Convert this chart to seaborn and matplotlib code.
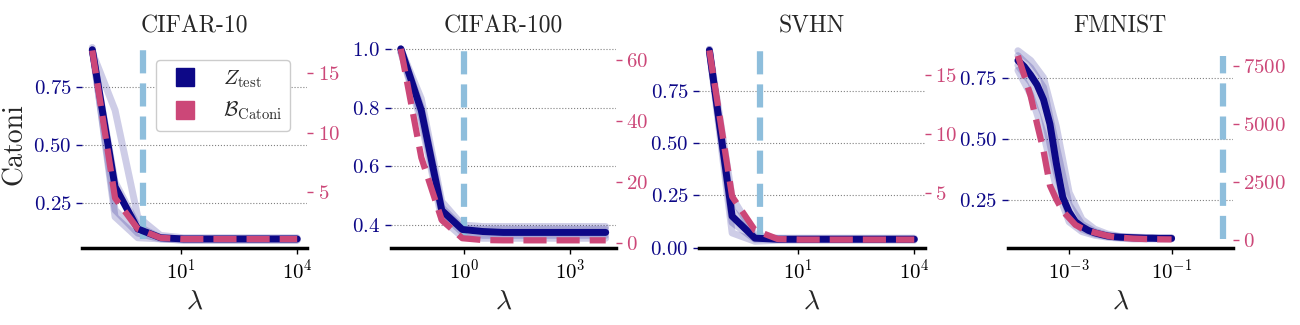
import numpy as np
import pandas as pd
import matplotlib
matplotlib.use("Agg")
import matplotlib.pyplot as plt
import matplotlib.transforms as mtransforms
from matplotlib.lines import Line2D
from matplotlib.ticker import NullLocator, FixedLocator
import seaborn as sns

# -------------------------
# DATA
# -------------------------
titles = ["CIFAR-10", "CIFAR-100", "SVHN", "FMNIST"]

lam_c10 = [0.0501, 0.1945, 0.755, 2.93, 11.4, 44.1, 171, 664, 2577, 10000]
z_c10 = [0.91, 0.32, 0.138, 0.10, 0.095, 0.095, 0.095, 0.095, 0.095, 0.095]
b_c10 = [16.9, 4.5, 1.9, 1.15, 1.05, 1.05, 1.05, 1.05, 1.05, 1.05]
seeds_c10 = [
    [0.90, 0.65, 0.19, 0.11, 0.10, 0.10, 0.10, 0.10, 0.10, 0.10],
    [0.91, 0.34, 0.15, 0.10, 0.095, 0.095, 0.095, 0.095, 0.095, 0.095],
    [0.91, 0.22, 0.12, 0.095, 0.09, 0.09, 0.09, 0.09, 0.09, 0.09],
    [0.92, 0.19, 0.10, 0.095, 0.09, 0.09, 0.09, 0.09, 0.09, 0.09],
]

lam_c100 = [0.01585, 0.0603, 0.229, 0.871, 3.31, 12.6, 47.9, 182, 692, 2630, 10000]
z_c100 = [1.0, 0.79, 0.45, 0.385, 0.378, 0.375, 0.375, 0.375, 0.375, 0.375, 0.375]
b_c100 = [63.6, 28.0, 7.5, 1.6, 1.0, 0.9, 0.9, 0.9, 0.9, 0.9, 0.9]
seeds_c100 = [
    [1.0, 0.83, 0.48, 0.40, 0.395, 0.395, 0.395, 0.395, 0.395, 0.395, 0.395],
    [1.0, 0.80, 0.46, 0.39, 0.385, 0.385, 0.385, 0.385, 0.385, 0.385, 0.385],
    [0.99, 0.77, 0.44, 0.375, 0.365, 0.365, 0.365, 0.365, 0.365, 0.365, 0.365],
    [0.99, 0.75, 0.42, 0.36, 0.355, 0.355, 0.355, 0.355, 0.355, 0.355, 0.355],
]

lam_svhn = [0.0501, 0.1945, 0.755, 2.93, 11.4, 44.1, 171, 664, 2577, 10000]
z_svhn = [0.945, 0.15, 0.045, 0.04, 0.04, 0.04, 0.04, 0.04, 0.04, 0.04]
b_svhn = [17.1, 4.7, 1.85, 1.1, 1.05, 1.05, 1.05, 1.05, 1.05, 1.05]
seeds_svhn = [
    [0.94, 0.07, 0.03, 0.035, 0.035, 0.035, 0.035, 0.035, 0.035, 0.035],
    [0.95, 0.12, 0.04, 0.04, 0.04, 0.04, 0.04, 0.04, 0.04, 0.04],
    [0.94, 0.18, 0.05, 0.04, 0.04, 0.04, 0.04, 0.04, 0.04, 0.04],
    [0.95, 0.24, 0.06, 0.045, 0.045, 0.045, 0.045, 0.045, 0.045, 0.045],
]

# FMNIST was swept on a finer grid
lam_fm = [1e-4, 1.33e-4, 1.78e-4, 2.37e-4, 3.16e-4, 4.22e-4, 5.62e-4, 7.5e-4,
          1e-3, 1.33e-3, 1.78e-3, 2.37e-3, 3.16e-3, 4.22e-3, 5.62e-3, 7.5e-3,
          1e-2, 1.33e-2, 1.78e-2, 2.37e-2, 3.16e-2, 4.22e-2, 5.62e-2, 7.5e-2, 1e-1]
z_fm = [0.82, 0.795, 0.76, 0.72, 0.66, 0.56, 0.40, 0.26, 0.20, 0.16, 0.14, 0.125,
        0.115, 0.108, 0.102, 0.099, 0.097, 0.096, 0.095, 0.094, 0.093, 0.093,
        0.092, 0.092, 0.092]
b_fm = [7950, 7100, 6200, 5000, 3850, 2350, 1750, 1250, 950, 650, 500, 400,
        320, 250, 180, 130, 100, 80, 60, 50, 40, 35, 30, 27, 25]
lam_fm_seeds = [1e-4, 1.78e-4, 3.16e-4, 5.62e-4, 1e-3, 1.78e-3, 3.16e-3,
                5.62e-3, 1e-2, 1.78e-2, 3.16e-2, 5.62e-2, 1e-1]
seeds_fm = [
    [0.78, 0.68, 0.52, 0.30, 0.16, 0.12, 0.105, 0.097, 0.093, 0.09, 0.09, 0.09, 0.09],
    [0.80, 0.73, 0.60, 0.36, 0.18, 0.13, 0.11, 0.10, 0.095, 0.093, 0.092, 0.092, 0.092],
    [0.84, 0.79, 0.71, 0.47, 0.23, 0.15, 0.12, 0.105, 0.099, 0.096, 0.094, 0.094, 0.094],
    [0.86, 0.82, 0.75, 0.55, 0.28, 0.17, 0.13, 0.11, 0.10, 0.098, 0.096, 0.095, 0.095],
]

lams = [lam_c10, lam_c100, lam_svhn, lam_fm]
seed_lams = [lam_c10, lam_c100, lam_svhn, lam_fm_seeds]
z_means = [z_c10, z_c100, z_svhn, z_fm]
bounds = [b_c10, b_c100, b_svhn, b_fm]
seeds_all = [seeds_c10, seeds_c100, seeds_svhn, seeds_fm]

lam_star = 1.0  # vertical reference line

xticks = [[10, 1e4], [1, 1e3], [10, 1e4], [1e-3, 1e-1]]
left_ticks = [[0.25, 0.5, 0.75], [0.4, 0.6, 0.8, 1.0], [0.0, 0.25, 0.5, 0.75], [0.25, 0.5, 0.75]]
right_ticks = [[5, 10, 15], [0, 20, 40, 60], [5, 10, 15], [0, 2500, 5000, 7500]]
left_lims = [(0.056, 0.948), (0.322, 1.027), (-0.002, 0.99), (0.053, 0.90)]
right_lims = [(0.3, 17.7), (-1.6, 66.2), (0.34, 17.9), (-345, 8590)]

# -------------------------
# STYLE
# -------------------------
NAVY = "#0d0887"
PINK = "#cc4778"
VBLUE = "#8ebedc"

sns.set_theme(style="ticks")
plt.rcParams["font.family"] = ["cmr10", "DejaVu Serif"]
plt.rcParams["mathtext.fontset"] = "cm"
plt.rcParams["axes.formatter.use_mathtext"] = True
plt.rcParams["axes.unicode_minus"] = False

fig, axes = plt.subplots(1, 4, figsize=(13, 3.25), dpi=100)
fig.subplots_adjust(left=0.0631, right=0.9485, bottom=0.237, top=0.874, wspace=0.369)

for i, ax in enumerate(axes):
    lam = lams[i]
    ax.set_xscale("log")
    ax2 = ax.twinx()

    # individual seeds (light band)
    seeds = seeds_all[i]
    slam = seed_lams[i]
    df = pd.DataFrame({
        "lam": np.tile(slam, len(seeds)),
        "val": np.concatenate(seeds),
        "seed": np.repeat(np.arange(len(seeds)), len(slam)),
    })
    sns.lineplot(data=df, x="lam", y="val", units="seed", estimator=None,
                 color=NAVY, alpha=0.2, lw=5, ax=ax, zorder=1, legend=False)

    # vertical line spanning the bound's range (x from ax, y from twin)
    trans = mtransforms.blended_transform_factory(ax.transData, ax2.transData)
    ax.vlines(lam_star, min(bounds[i]), max(bounds[i]), transform=trans,
              colors=VBLUE, lw=4.5, linestyles="--", zorder=2)
    # the blended transform does not feed autoscaling, so add lam_star by hand
    ax.update_datalim([(lam_star, z_means[i][-1])])

    # mean test loss
    sns.lineplot(x=lam, y=z_means[i], ax=ax, color=NAVY, lw=5, zorder=3)

    # bound on the twin axis
    sns.lineplot(x=lam, y=bounds[i], ax=ax2, color=PINK, lw=4.5, linestyle="--")

    ax.autoscale_view()
    ax.set_ylim(*left_lims[i])
    ax2.set_ylim(*right_lims[i])
    ax.set_xticks(xticks[i])
    ax.xaxis.set_minor_locator(NullLocator())
    ax.yaxis.set_major_locator(FixedLocator(left_ticks[i]))
    ax2.yaxis.set_major_locator(FixedLocator(right_ticks[i]))

    ax.yaxis.grid(True, linestyle=":", color="gray", linewidth=0.8)
    ax.xaxis.grid(False)

    for s in ["top", "right", "left"]:
        ax.spines[s].set_visible(False)
    for s in ["top", "right", "left", "bottom"]:
        ax2.spines[s].set_visible(False)
    ax.spines["bottom"].set_linewidth(2.5)
    ax.spines["bottom"].set_color("black")

    ax.tick_params(axis="x", labelsize=15, colors="black", length=4, width=1)
    ax.tick_params(axis="y", labelsize=15, colors=NAVY, length=4, width=1)
    ax2.tick_params(axis="y", labelsize=15, colors=PINK, length=4, width=1)

    ax.set_title(titles[i], fontsize=17)
    ax.set_xlabel(r"$\lambda$", fontsize=20)
    ax.set_ylabel("Catoni" if i == 0 else "", fontsize=20)
    ax2.set_ylabel("")

    if i == 0:
        handles = [
            Line2D([], [], marker="s", ls="", color=NAVY, markersize=13),
            Line2D([], [], marker="s", ls="", color=PINK, markersize=13),
        ]
        ax2.legend(handles, [r"$Z_{\rm test}$", r"$\mathcal{B}_{\rm Catoni}$"],
                   loc="upper right", bbox_to_anchor=(0.97, 0.96), fontsize=15,
                   frameon=True, edgecolor="#cccccc", framealpha=1.0)

fig.savefig("out.png", dpi=100)
